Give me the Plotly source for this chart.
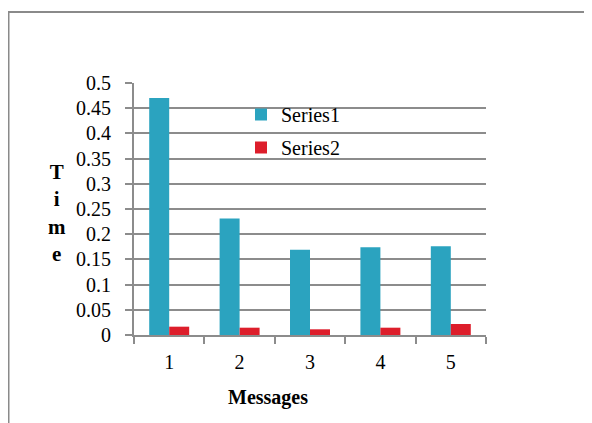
import plotly.graph_objects as go

categories = ["1", "2", "3", "4", "5"]
series1 = [0.470, 0.231, 0.169, 0.174, 0.176]
series2 = [0.0165, 0.0145, 0.0113, 0.0145, 0.0218]
y_tickvals = [0, 0.05, 0.1, 0.15, 0.2, 0.25, 0.3, 0.35, 0.4, 0.45, 0.5]
y_ticktext = ["0", "0.05", "0.1", "0.15", "0.2", "0.25", "0.3", "0.35", "0.4", "0.45", "0.5"]

FONT = "Liberation Serif, Times New Roman, serif"
GRID = "#8c8c8c"
OFF = 8  # page body margin
W, H = 592, 423
L, R, T, B = 134 - OFF, 106 + OFF, 83 - OFF, 88 + OFF
PW, PH = W - L - R, H - T - B

def px(x):  # page pixel -> paper
    return (x - OFF - L) / PW

def py(y):
    return (H - B - (y - OFF)) / PH

fig = go.Figure()
fig.add_trace(go.Bar(x=categories, y=series1, name="Series1", legendgroup="a",
                     marker=dict(color="#2BA3BF", line=dict(width=0))))
fig.add_trace(go.Bar(x=categories, y=series2, name="Series2", legendgroup="b",
                     marker=dict(color="#DD1E2B", line=dict(width=0))))

fig.update_layout(
    width=W, height=H,
    margin=dict(l=L, r=R, t=T, b=B, pad=0),
    paper_bgcolor="white", plot_bgcolor="white",
    font=dict(family=FONT, size=20, color="black"),
    barmode="group", bargap=0.432, bargroupgap=0,
    showlegend=True,
    legend=dict(x=px(241), y=py(95), xanchor="left", yanchor="top",
                bgcolor="rgba(0,0,0,0)", font=dict(family=FONT, size=20),
                itemwidth=30, tracegroupgap=4),
    xaxis=dict(type="category", showgrid=False, showline=True, linecolor=GRID, linewidth=2,
               ticks="outside", tickson="boundaries", ticklen=7, tickcolor=GRID, tickwidth=2,
               tickfont=dict(family=FONT, size=20), zeroline=False, fixedrange=True,
               ticklabelstandoff=8),
    yaxis=dict(range=[0, 0.5], tickvals=y_tickvals, ticktext=y_ticktext,
               showgrid=True, gridcolor=GRID, gridwidth=2,
               showline=True, linecolor=GRID, linewidth=2,
               ticks="outside", ticklen=7, tickcolor=GRID, tickwidth=2,
               tickfont=dict(family=FONT, size=20), zeroline=False,
               ticklabelstandoff=10, fixedrange=True),
    annotations=[
        dict(text="<b>T<br>i<br>m<br>e</b>", xref="paper", yref="paper",
             x=px(57), y=py(213), xanchor="center", yanchor="middle",
             showarrow=False, font=dict(family=FONT, size=21, color="black")),
        dict(text="<b>Messages</b>", xref="paper", yref="paper",
             x=px(267.5), y=py(397), xanchor="center", yanchor="middle",
             showarrow=False, font=dict(family=FONT, size=20, color="black")),
    ],
    shapes=[
        dict(type="rect", xref="paper", yref="paper",
             x0=px(8.5), x1=px(640), y0=py(470), y1=py(12),
             line=dict(color="#8a8a8a", width=2), fillcolor="rgba(0,0,0,0)", layer="below"),
    ],
)

fig.write_html("out.html")
